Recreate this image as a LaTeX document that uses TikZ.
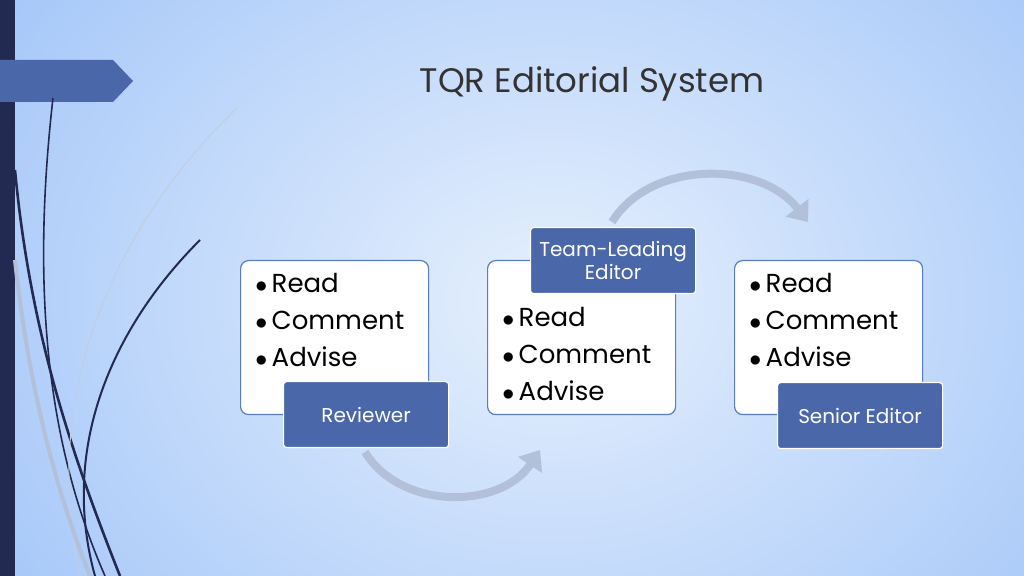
\documentclass[tikz,border=0pt]{standalone}
\usepackage{fontspec}
\setmainfont{Poppins}
\usetikzlibrary{arrows.meta}
\definecolor{navy}{HTML}{232A52}
\definecolor{tabblue}{HTML}{4A67AA}
\definecolor{edgeblue}{HTML}{5A7CC0}
\definecolor{flowgray}{HTML}{B3C0DA}
\definecolor{bgout}{HTML}{9DC2F8}
\definecolor{bgin}{HTML}{E6F0FD}
\tikzset{
  listbox/.style={draw=edgeblue, fill=white, rounded corners=4pt, line width=0.6pt,
    minimum width=94pt, minimum height=77pt, anchor=north west},
  rolebox/.style={draw=white, fill=tabblue, rounded corners=1.5pt, line width=0.6pt,
    minimum width=82.5pt, minimum height=33pt, anchor=north west,
    text=white, align=center, inner sep=0pt, font=\fontsize{10}{11.5}\selectfont},
  itemtext/.style={anchor=north west, align=left, inner sep=0pt, font=\fontsize{13}{18.5}\selectfont},
  flow/.style={flowgray, line width=4pt, -{Triangle[length=9pt,width=14pt]}}
}
\newcommand{\itemlist}{$\bullet$\,Read\\$\bullet$\,Comment\\$\bullet$\,Advise}
\begin{document}
\begin{tikzpicture}[x=0.5pt,y=-0.5pt]
  \useasboundingbox (0,0) rectangle (1024,576);
  \shade[inner color=bgin, outer color=bgout] (-200,-300) rectangle (1300,900);
  \clip (0,0) rectangle (1024,576);
  % decorations at the left
  \fill[navy] (0,0) rectangle (15,576);
  \fill[tabblue] (0,60) -- (113,60) -- (133,81) -- (113,102) -- (0,102) -- cycle;
  \draw[navy, line width=0.8pt] (53,98) .. controls (30,300) and (50,450) .. (105,576);
  \draw[navy, line width=1.3pt] (15,170) .. controls (30,330) and (70,450) .. (120,576);
  \draw[navy, line width=1pt] (200,240) .. controls (110,330) and (60,450) .. (95,576);
  \draw[flowgray!80!white, line width=0.5pt] (237,108) .. controls (110,230) and (40,400) .. (80,576);
  \draw[flowgray, line width=2pt] (15,260) .. controls (30,400) and (60,500) .. (90,576);
  % boxes
  \node[listbox] (rev) at (240,260) {};
  \node[itemtext] (revtxt) at (255,273) {\itemlist};
  \node[rolebox] (revtab) at (283,381) {Reviewer};
  \node[listbox] (tle) at (487,260) {};
  \node[itemtext] (tletxt) at (502,307) {\itemlist};
  \node[rolebox] (tletab) at (530,227) {Team-Leading\\Editor};
  \node[listbox] (sen) at (734,260) {};
  \node[itemtext] (sentxt) at (749,273) {\itemlist};
  \node[rolebox] (sentab) at (777,382) {Senior Editor};
  % flow arrows
  \draw[flow] (365,452) .. controls (400,510) and (500,510) .. (540,450);
  \draw[flow] (612,222) .. controls (650,160) and (760,160) .. (808,222);
  % title
  \node[text=black!80, font=\fontsize{17}{20}\selectfont] (title) at (592,84) {TQR Editorial System};
\end{tikzpicture}
\end{document}
